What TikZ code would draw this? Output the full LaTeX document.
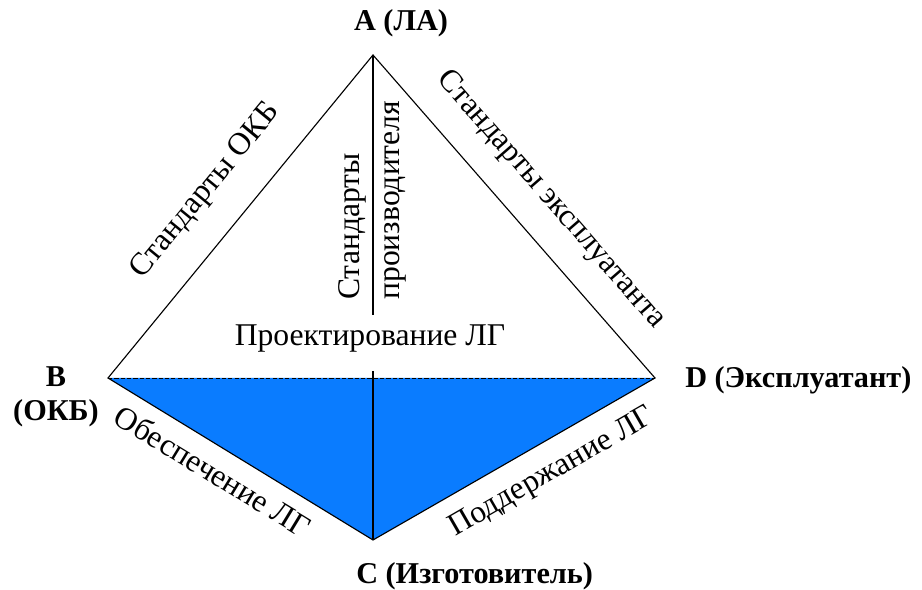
\documentclass[tikz,border=0pt]{standalone}
\usepackage{fontspec}
\setmainfont{Liberation Serif}
\usepackage{tikz}
\usetikzlibrary{calc}
\definecolor{fillblue}{RGB}{10,124,255}

\begin{document}
\begin{tikzpicture}[x=0.025cm,y=-0.025cm,
    vertex/.style={font=\fontsize{21.5}{24}\selectfont\bfseries,inner sep=0pt},
    edgelbl/.style={font=\fontsize{22.5}{26}\selectfont,inner sep=0pt}]
                      \useasboundingbox (0,0) rectangle (922,590);
                      \coordinate (A) at (373,55);
                      \coordinate (B) at (108,378);
                      \coordinate (C) at (373,540);
                      \coordinate (D) at (655,378);
                      \coordinate (m1) at (373,315);
                      \coordinate (m2) at (373,371);
                      \fill[fillblue] (B)--(D)--(C)--cycle;
                      \draw[line width=0.8pt] (A)--(B)--(C)--(D)--cycle;
                      \draw[line width=0.8pt] (A)--(m1);
                      \draw[line width=0.8pt] (m2)--(C);
                      \draw[line width=0.7pt,dash pattern=on 3pt off 1.5pt] (B)--(D);
                      % vertex labels
                      \node[vertex](la)at(401,23){A (ЛА)};
                      \node[vertex,align=center](okb)at(56,397){B\\(ОКБ)};
                      \node[vertex,anchor=west](ekspl)at(685,380){D (Эксплуатант)};
                      \node[vertex,anchor=west](izg)at(356,576){C (Изготовитель)};
                      % edge labels
                      \node[edgelbl,rotate=50.6](sokb)at(206,191){Стандарты ОКБ};
                      \node[edgelbl,rotate=-48.9](sekspl)at(551,200){Стандарты эксплуатанта};
                      \node[edgelbl,rotate=90,anchor=west,align=left,font=\fontsize{22.5}{28.5}\selectfont](sproizv)at(372,300){Стандарты\\производителя};
                      \node[edgelbl](proekt)at(370,339){Проектирование ЛГ};
                      \node[edgelbl,rotate=-31.4](obesp)at(213,471){Обеспечение ЛГ};
                      \node[edgelbl,rotate=29.9](podd)at(552,473){Поддержание ЛГ};
                  \end{tikzpicture}
\end{document}
